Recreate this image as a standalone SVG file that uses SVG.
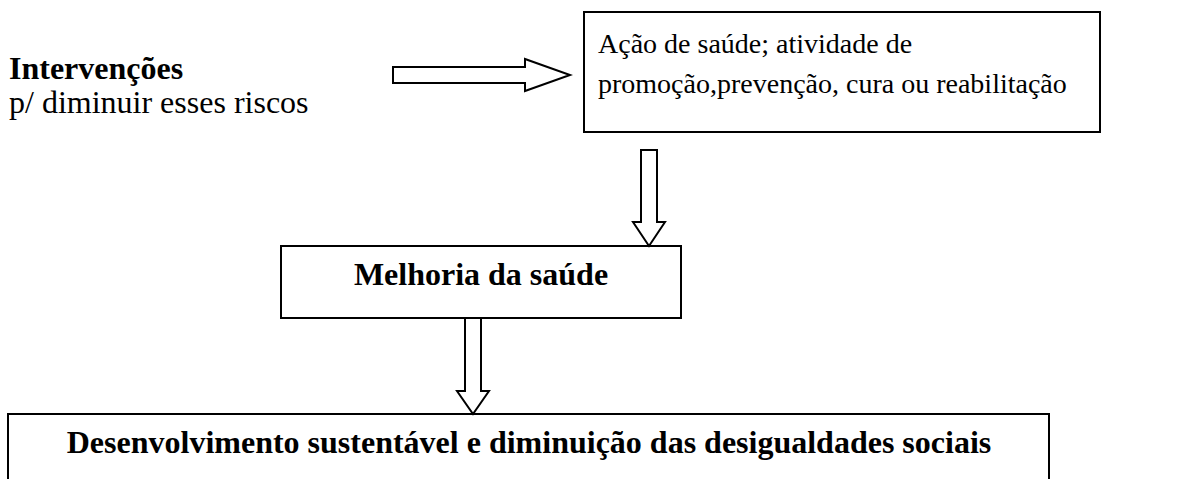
<svg xmlns="http://www.w3.org/2000/svg" width="1179" height="479" viewBox="0 0 1179 479">
<style>
.box{fill:#fff;stroke:#000;stroke-width:2}
.arr{fill:#fff;stroke:#000;stroke-width:2;stroke-linejoin:miter}
.t{font-family:"Liberation Serif","Times New Roman",serif;fill:#000}
.b{font-weight:bold}
</style>
<rect width="1179" height="479" fill="#fff"/>
<g id="intervencoes">
<text class="t b" x="9" y="79" font-size="32">Intervenções</text>
<text class="t" x="9" y="113" font-size="32">p/ diminuir esses riscos</text>
</g>
<g id="acao">
<rect class="box" x="584" y="12" width="516" height="120"/>
<text class="t" x="598" y="53" font-size="28">Ação de saúde; atividade de</text>
<text class="t" x="598" y="93" font-size="28">promoção,prevenção, cura ou reabilitação</text>
</g>
<g id="melhoria">
<rect class="box" x="281" y="246" width="400" height="72"/>
<text class="t b" x="481" y="285" font-size="32" text-anchor="middle">Melhoria da saúde</text>
</g>
<g id="desenvolvimento">
<rect class="box" x="8" y="414" width="1041" height="80"/>
<text class="t b" x="529" y="453" font-size="32" text-anchor="middle">Desenvolvimento sustentável e diminuição das desigualdades sociais</text>
</g>
<g id="connectors">
<polygon class="arr" points="393,67 525,67 525,59 570,75 525,91 525,83 393,83"/>
<polygon class="arr" points="641,150 657,150 657,222 665,222 649,246 633,222 641,222"/>
<polygon class="arr" points="465,318 481,318 481,391 489,391 473,414 457,391 465,391"/>
</g>
</svg>
